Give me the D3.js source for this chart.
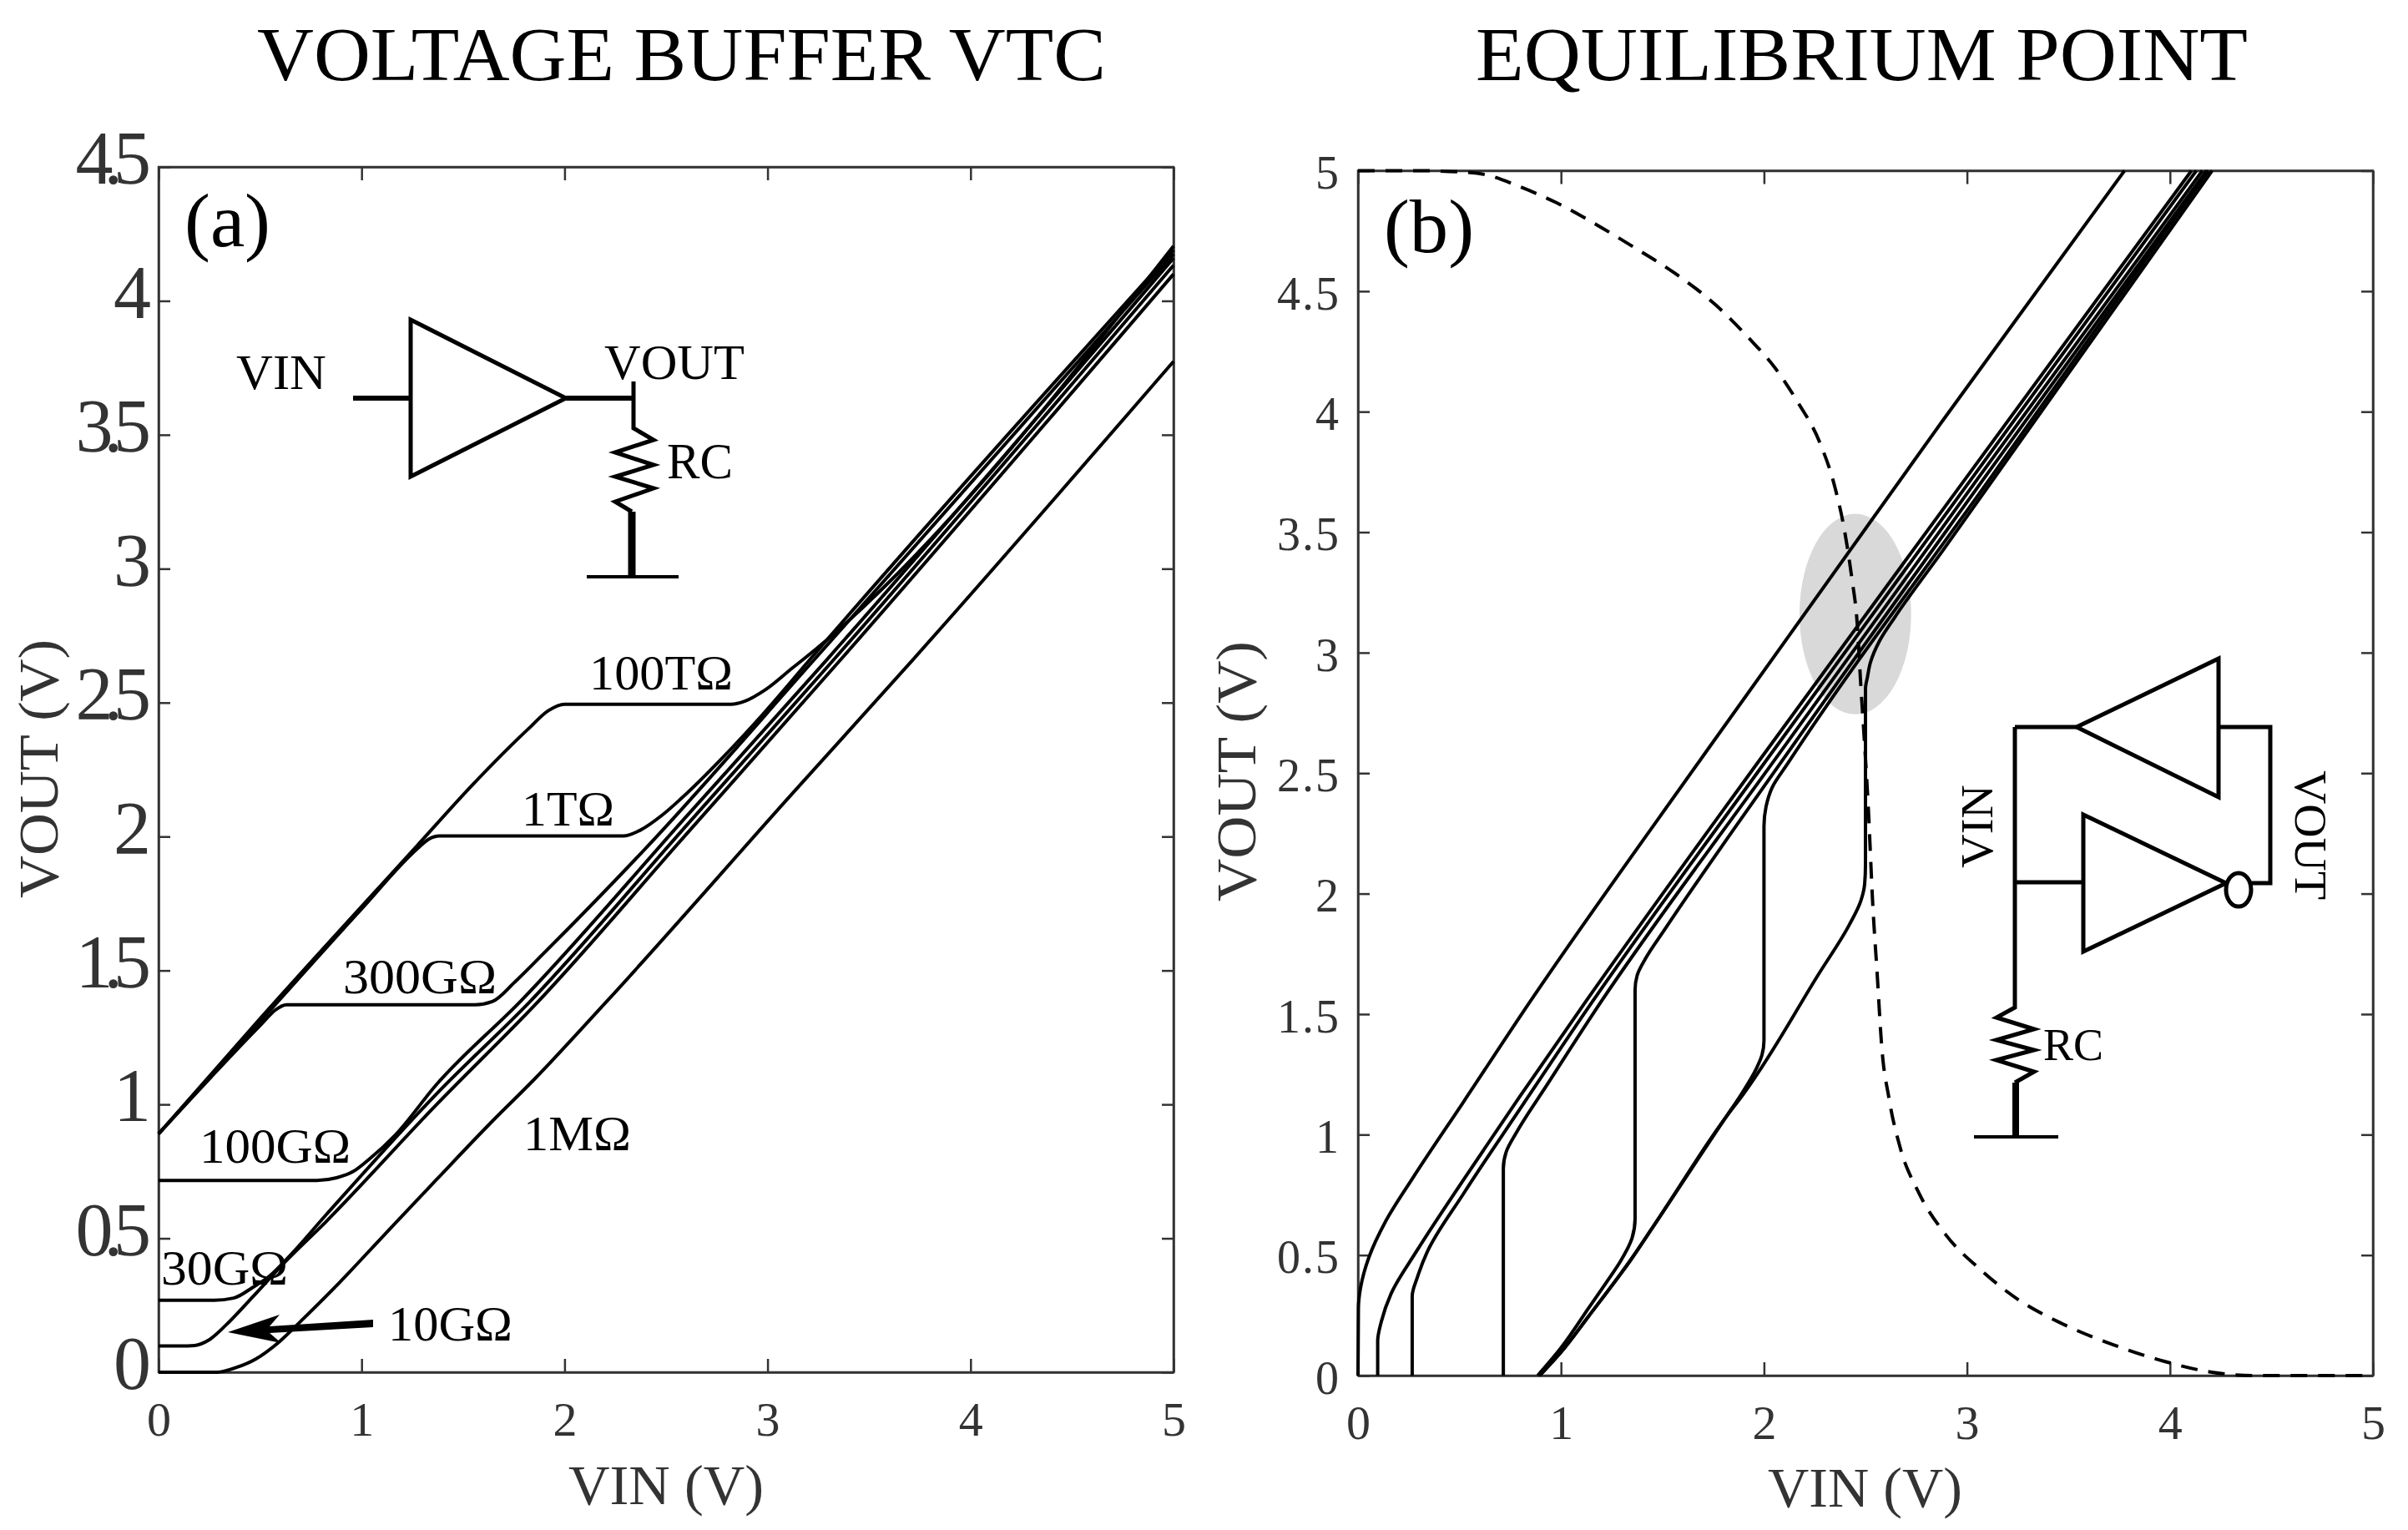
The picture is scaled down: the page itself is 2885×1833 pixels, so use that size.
<!DOCTYPE html>
<html>
<head>
<meta charset="utf-8">
<script src="https://d3js.org/d3.v7.min.js"></script>
<style>
  body { margin: 0; background: #fff; }
  text { font-family: "Liberation Serif", serif; }
</style>
</head>
<body>
<script>
// panel (a): buffer VTC for each RC
var aRc1MVin = [0, 0.288, 0.384, 0.48, 0.589, 0.713, 0.89, 1.096, 1.37, 1.645, 1.85, 2.207, 3.125, 3.718, 5];
var aRc1MOut = [0, 0, 0.018, 0.05, 0.11, 0.2, 0.334, 0.5, 0.72, 0.938, 1.093, 1.384, 2.163, 2.662, 3.774];
var aRc10GVin = [0, 0.11, 0.178, 0.247, 0.329, 0.466, 0.617, 0.822, 1.37, 1.87, 2.6, 3.362, 5];
var aRc10GOut = [0.098, 0.098, 0.1, 0.12, 0.174, 0.283, 0.407, 0.56, 1, 1.384, 2.009, 2.662, 4.1];
var aRc30GVin = [0, 0.274, 0.37, 0.466, 0.548, 0.644, 0.822, 1.37, 1.83, 2.6, 3.328, 5];
var aRc30GOut = [0.269, 0.269, 0.277, 0.318, 0.36, 0.433, 0.585, 1.04, 1.384, 2.041, 2.662, 4.133];
var aRc100GVin = [0, 0.78, 0.877, 0.96, 1.04, 1.165, 1.37, 1.782, 2.6, 3.294, 5];
var aRc100GOut = [0.716, 0.716, 0.726, 0.75, 0.797, 0.885, 1.075, 1.384, 2.075, 2.662, 4.16];
var aRc300GVin = [0, 0.507, 0.576, 0.63, 1.56, 1.644, 1.755, 1.892, 2.412, 3.232, 5];
var aRc300GOut = [0.89, 1.3, 1.353, 1.372, 1.372, 1.384, 1.457, 1.56, 1.966, 2.662, 4.175];
var aRc1TVin = [0, 0.5, 1, 1.275, 1.33, 1.384, 2.289, 2.371, 2.481, 2.576, 2.783, 2.975, 3.21, 5];
var aRc1TOut = [0.89, 1.31, 1.73, 1.955, 1.99, 2.002, 2.002, 2.023, 2.08, 2.143, 2.298, 2.455, 2.662, 4.19];
var aRc100TVin = [0, 0.5, 1.275, 1.549, 1.823, 1.92, 2, 2.82, 2.89, 2.989, 3.125, 3.177, 5];
var aRc100TOut = [0.89, 1.32, 1.967, 2.195, 2.403, 2.47, 2.494, 2.494, 2.506, 2.548, 2.631, 2.662, 4.205];

// panel (b): same curves with axes swapped, plus the inverter VTC
var bRc1MVin = [0, 0.002, 0.0123, 0.0535, 0.136, 0.273, 0.52, 0.848, 1.716, 2.878, 3.776];
var bRc1MOut = [0, 0.28, 0.363, 0.49, 0.64, 0.824, 1.136, 1.552, 2.59, 3.96, 5];
var bRc10GVin = [0.097, 0.097, 0.115, 0.163, 0.286, 0.52, 0.793, 1.122, 1.966, 3, 4.106];
var bRc10GOut = [0, 0.143, 0.224, 0.34, 0.513, 0.813, 1.153, 1.552, 2.54, 3.73, 5];
var bRc30GVin = [0.267, 0.267, 0.293, 0.341, 0.52, 0.793, 1.155, 2, 3.03, 4.13];
var bRc30GOut = [0, 0.33, 0.409, 0.513, 0.755, 1.1, 1.552, 2.54, 3.73, 5];
var bRc100GVin = [0.716, 0.716, 0.73, 0.78, 0.93, 1.198, 2.04, 3.06, 4.16];
var bRc100GOut = [0, 0.86, 0.928, 1.008, 1.205, 1.552, 2.54, 3.73, 5];
var bRc300GVin = [0.885, 1, 1.136, 1.232, 1.29, 1.35, 1.365, 1.365, 1.375, 1.416, 1.51, 2.08, 3.09, 4.18];
var bRc300GOut = [0, 0.115, 0.28, 0.397, 0.47, 0.57, 0.65, 1.6, 1.66, 1.73, 1.85, 2.54, 3.73, 5];
var bRc1TVin = [0.895, 1, 1.136, 1.342, 1.48, 1.808, 1.89, 1.96, 1.99, 2, 2, 2.01, 2.04, 2.117, 3.12, 4.19];
var bRc1TOut = [0, 0.097, 0.246, 0.478, 0.651, 1.067, 1.17, 1.27, 1.33, 1.39, 2.28, 2.36, 2.44, 2.54, 3.73, 5];
var bRc100TVin = [0.895, 1, 1.136, 1.342, 1.48, 1.808, 1.9, 2.27, 2.42, 2.477, 2.496, 2.5, 2.5, 2.51, 2.524, 2.57, 2.643, 2.878, 4.208];
var bRc100TOut = [0, 0.097, 0.246, 0.478, 0.651, 1.067, 1.17, 1.667, 1.87, 1.97, 2.04, 2.12, 2.85, 2.9, 2.958, 3.05, 3.145, 3.42, 5];
var invVin = [0, 0.3, 0.5, 0.624, 0.808, 0.973, 1.175, 1.358, 1.56, 1.762, 1.927, 2.056, 2.166, 2.276, 2.35, 2.395, 2.432, 2.46, 2.478, 2.49, 2.514, 2.536, 2.557, 2.58, 2.616, 2.67, 2.76, 2.895, 3.066, 3.253, 3.47, 3.721, 3.973, 4.206, 4.404, 5];
var invOut = [5, 5, 4.995, 4.984, 4.93, 4.869, 4.776, 4.683, 4.575, 4.443, 4.304, 4.18, 4.04, 3.87, 3.685, 3.515, 3.314, 3.114, 2.85, 2.695, 2.356, 1.954, 1.676, 1.366, 1.15, 0.949, 0.763, 0.585, 0.44, 0.315, 0.215, 0.128, 0.059, 0.014, 0, 0];

var xTicks = [0, 1, 2, 3, 4, 5];
var aYTicks = [0, 0.5, 1, 1.5, 2, 2.5, 3, 3.5, 4, 4.5];
var bYTicks = [0, 0.5, 1, 1.5, 2, 2.5, 3, 3.5, 4, 4.5, 5];

var svg = d3.select("body").append("svg")
  .attr("width", 2885)
  .attr("height", 1833);

var xA = d3.scaleLinear().domain([0, 5]).range([190, 1406]);
var yA = d3.scaleLinear().domain([0, 4.5]).range([1644, 200]);
var xB = d3.scaleLinear().domain([0, 5]).range([1627, 2843]);
var yB = d3.scaleLinear().domain([0, 5]).range([1648, 204.5]);

// text squeezed to the measured width, the original is condensed
function label(str, x, y, size, width, opts) {
  opts = opts || {};
  var t = svg.append("text")
    .attr("font-size", size)
    .attr("fill", opts.fill || "#000")
    .text(str);
  if (opts.rotate) {
    t.attr("transform", `translate(${x},${y}) rotate(${opts.rotate})`);
  } else {
    t.attr("x", x).attr("y", y);
  }
  if (width) t.attr("textLength", width).attr("lengthAdjust", "spacingAndGlyphs");
}

function wire(points, w) {
  svg.append("path")
    .attr("d", d3.line()(points))
    .attr("fill", "none")
    .attr("stroke", "#000")
    .attr("stroke-width", w)
    .attr("stroke-linejoin", "miter");
}

function axes(x, y, yTicks, yFontSize, yPad, yDy, ySpacing, xPad) {
  var bottom = y.range()[0], top = y.range()[1], left = x.range()[0], right = x.range()[1];

  var xg = svg.append("g").attr("transform", `translate(0,${bottom})`)
    .call(d3.axisBottom(x).tickValues(xTicks).tickSize(-16).tickSizeOuter(0).tickPadding(xPad).tickFormat(d3.format("d")));
  var yg = svg.append("g").attr("transform", `translate(${left},0)`)
    .call(d3.axisLeft(y).tickValues(yTicks).tickSize(-14).tickSizeOuter(0).tickPadding(yPad).tickFormat(d => String(d)));
  svg.append("g").attr("transform", `translate(0,${top})`)
    .call(d3.axisTop(x).tickValues(xTicks).tickSize(-16).tickSizeOuter(0).tickFormat(""));
  svg.append("g").attr("transform", `translate(${right},0)`)
    .call(d3.axisRight(y).tickValues(yTicks).tickSize(-14).tickSizeOuter(0).tickFormat(""));

  svg.selectAll("g .domain").attr("stroke", "#333").attr("stroke-width", 2.5);
  svg.selectAll("g .tick line").attr("stroke", "#333").attr("stroke-width", 2.5);

  xg.selectAll("text").attr("font-size", 58).attr("font-family", "Liberation Serif").attr("fill", "#333");
  yg.selectAll("text").attr("font-size", yFontSize).attr("font-family", "Liberation Serif").attr("fill", "#333")
    .attr("dy", yDy).attr("letter-spacing", ySpacing);

  svg.append("rect")
    .attr("x", left).attr("y", top)
    .attr("width", right - left).attr("height", bottom - top)
    .attr("fill", "none").attr("stroke", "#333").attr("stroke-width", 2.5);
}

function curve(x, y, vin, vout, curveType, dash) {
  svg.append("path")
    .datum(vin.map((d, i) => [d, vout[i]]))
    .attr("fill", "none")
    .attr("stroke", "#000")
    .attr("stroke-width", 4)
    .attr("stroke-dasharray", dash || null)
    .attr("d", d3.line().x(d => x(d[0])).y(d => y(d[1])).curve(curveType));
}

// grey ellipse goes under the curves in (b)
svg.append("ellipse")
  .attr("cx", xB(2.45)).attr("cy", yB(3.16))
  .attr("rx", xB(0.275) - xB(0)).attr("ry", yB(0) - yB(0.416))
  .attr("fill", "#d9d9d9");

axes(xA, yA, aYTicks, 90, 20, "0.22em", -11, 35);
axes(xB, yB, bYTicks, 56, 21, "0.38em", 2, 35);

// (a) curves
[[aRc1MVin, aRc1MOut], [aRc10GVin, aRc10GOut], [aRc30GVin, aRc30GOut], [aRc100GVin, aRc100GOut],
 [aRc300GVin, aRc300GOut], [aRc1TVin, aRc1TOut], [aRc100TVin, aRc100TOut]].forEach(function(c) {
  curve(xA, yA, c[0], c[1], d3.curveMonotoneX);
});

// (b) curves
[[bRc1MVin, bRc1MOut], [bRc10GVin, bRc10GOut], [bRc30GVin, bRc30GOut], [bRc100GVin, bRc100GOut],
 [bRc300GVin, bRc300GOut], [bRc1TVin, bRc1TOut], [bRc100TVin, bRc100TOut]].forEach(function(c) {
  curve(xB, yB, c[0], c[1], d3.curveMonotoneY);
});
curve(xB, yB, invVin, invOut, d3.curveMonotoneX, "20 13");

// titles and axis labels
label("VOLTAGE BUFFER VTC", 308, 96, 92, 1017);
label("EQUILIBRIUM POINT", 1768, 96, 92, 925);
label("VIN (V)", 681, 1802, 68, 234, {fill: "#333"});
label("VIN (V)", 2118, 1805, 68, 233, {fill: "#333"});
label("VOUT (V)", 69, 1076, 68, 310, {rotate: -90, fill: "#333"});
label("VOUT (V)", 1504, 1080, 68, 312, {rotate: -90, fill: "#333"});
label("(a)", 221, 295, 92, 103);
label("(b)", 1658, 302, 92, 108);

// resistance labels on (a)
label("100TΩ", 706, 826, 60, 172);
label("1TΩ", 625, 989, 60, 111);
label("300GΩ", 411, 1190, 60, 184);
label("100GΩ", 239, 1393, 60, 181);
label("1MΩ", 627, 1378, 60, 129);
label("30GΩ", 193, 1539, 60, 152);
label("10GΩ", 465, 1606, 60, 149);
svg.append("path")
  .attr("d", d3.line()([[273, 1596], [335, 1575], [323, 1589], [447, 1581], [447, 1590], [323, 1597], [337, 1609]]) + "Z")
  .attr("fill", "#000");

// buffer sketch on (a)
wire([[492, 383], [492, 571], [678, 477], [492, 383], [492, 571]], 5);
wire([[423, 477], [492, 477]], 6);
wire([[678, 477], [759, 477]], 6);
wire([[759, 457], [759, 513], [783, 527], [737, 542], [783, 557], [737, 571], [783, 585], [737, 601], [757, 613]], 5);
wire([[757, 613], [757, 691]], 9);
wire([[703, 691], [813, 691]], 4);
label("VIN", 283, 466, 60, 108);
label("VOUT", 724, 454, 60, 168);
label("RC", 799, 573, 62, 79);

// back to back inverters sketch on (b)
wire([[2488, 871], [2658, 789], [2658, 955], [2488, 871], [2658, 789]], 5);
wire([[2414, 871], [2488, 871]], 5);
wire([[2658, 871], [2720, 871], [2720, 1058], [2694, 1058]], 5);
wire([[2496, 976], [2496, 1140], [2667, 1058], [2496, 976], [2496, 1140]], 5);
wire([[2414, 1057], [2496, 1057]], 5);
wire([[2414, 871], [2414, 1207], [2392, 1219], [2437, 1233], [2392, 1246], [2437, 1258], [2392, 1270], [2437, 1284], [2414, 1297]], 5);
wire([[2415, 1297], [2415, 1362]], 8);
wire([[2365, 1362], [2466, 1362]], 4);
svg.append("ellipse")
  .attr("cx", 2682).attr("cy", 1066).attr("rx", 15).attr("ry", 20)
  .attr("fill", "#fff").attr("stroke", "#000").attr("stroke-width", 5);
label("VIN", 2387, 1040, 54, 100, {rotate: -90});
label("VOUT", 2750, 923, 54, 155, {rotate: 90});
label("RC", 2448, 1270, 55, 72);
</script>
</body>
</html>
